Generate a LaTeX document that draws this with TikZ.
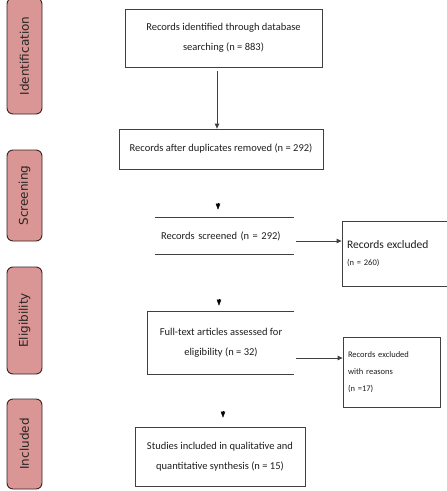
\documentclass[tikz,border=0pt]{standalone}
\usepackage{fontspec}
\setmainfont{Carlito}
\newfontfamily\phasefont{DejaVu Sans}
\usetikzlibrary{arrows.meta}

\definecolor{phasepink}{HTML}{D99694}
\definecolor{phaseedge}{HTML}{3B2222}
\definecolor{boxedge}{HTML}{404040}
\definecolor{boxtext}{HTML}{1E1E1E}

\begin{document}
\begin{tikzpicture}[
    x=1pt, y=1pt,
    phase/.style={rectangle, draw=phaseedge, line width=0.9pt, rounded corners=6pt, fill=phasepink, minimum width=#1, minimum height=35pt, inner sep=0pt, rotate=90, font=\phasefont\fontsize{12}{14}\selectfont, text=black!85},
    box/.style={rectangle, draw=boxedge, line width=0.8pt, align=center, inner sep=0pt, text=boxtext, font=\fontsize{10.5}{20}\selectfont},
    sidebox/.style={rectangle, draw=boxedge, line width=0.8pt, align=left, inner xsep=5pt, inner ysep=0pt, text=boxtext, font=\fontsize{8.5}{17}\selectfont},
    arrow/.style={-{Triangle[length=5pt,width=4.5pt]}, draw=boxedge, line width=0.8pt},
    tiponly/.style={-{Triangle[length=6pt,width=4.5pt]}, line width=0.3pt}
]
    \useasboundingbox (0,0) rectangle (447,-491);
    \clip (0,0) rectangle (447,-491);

    % phase labels on the left
    \node[phase=116pt] (pident)  at (24.5,-56)    {Identification};
    \node[phase=91pt]  (pscreen) at (24.5,-195.5) {Screening};
    \node[phase=107pt] (pelig)   at (24.5,-320.5) {Eligibility};
    \node[phase=90pt]  (pincl)   at (24.5,-444)   {Included};

    % main column
    \node[box, minimum width=197pt, minimum height=58pt] (ident) at (223.5,-38)
        {Records identified through database\\searching (n = 883)};
    \node[box, minimum width=204pt, minimum height=40pt] (dup) at (221,-149)
        {Records after duplicates removed (n = 292)};
    \node[box, draw=none, align=left, inner xsep=6pt, text width=127pt, minimum height=36pt] (screen) at (224.5,-236)
        {Records screened (n = 292)};
    \node[box, draw=none, minimum width=146pt, minimum height=62pt] (full) at (221,-343)
        {Full-text articles assessed for\\eligibility (n = 32)};
    \node[box, minimum width=170pt, minimum height=59pt] (incl) at (220,-456.5)
        {Studies included in qualitative and\\quantitative synthesis (n = 15)};

    % exclusions on the right
    \node[sidebox, text width=100pt, minimum height=65pt] (excl) at (397,-253.5)
        {{\fontsize{11.5}{19}\selectfont Records excluded}\\(n = 260)};
    \node[sidebox, text width=87pt, minimum height=70pt] (reas) at (391.5,-372)
        {Records excluded\\with reasons\\(n =17)};

    % open sides
    \draw[draw=boxedge, line width=0.8pt] (screen.north west) -- (screen.north east);
    \draw[draw=boxedge, line width=0.8pt] (screen.south west) -- (screen.south east);
    \draw[draw=boxedge, line width=0.8pt] (full.north east) -- (full.north west) -- (full.south west) -- (full.south east);

    % connectors
    \draw[arrow] ([xshift=-6.5pt,yshift=-4pt]ident.south) -- ([xshift=-4pt]dup.north);
    \draw[tiponly] ([xshift=-6.5pt,yshift=15pt]screen.north) -- ([xshift=-6.5pt,yshift=8pt]screen.north);
    \draw[arrow] ([xshift=2pt,yshift=-5pt]screen.east) -- ([yshift=12.5pt]excl.west);
    \draw[tiponly] ([xshift=-2pt,yshift=13pt]full.north) -- ([xshift=-2pt,yshift=6pt]full.north);
    \draw[arrow] ([xshift=2pt,yshift=-15pt]full.east) -- ([yshift=14pt]reas.west);
    \draw[tiponly] ([xshift=3pt,yshift=16pt]incl.north) -- ([xshift=3pt,yshift=9pt]incl.north);
\end{tikzpicture}
\end{document}
